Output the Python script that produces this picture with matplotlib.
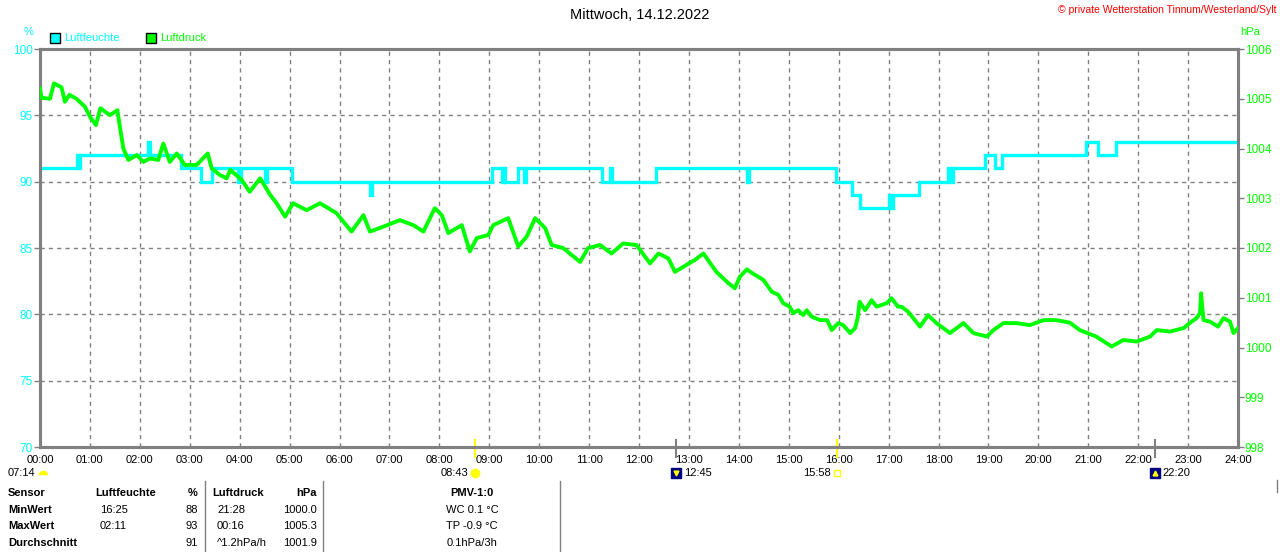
#weather station day chart: humidity + air pressure
import numpy as np
import matplotlib.pyplot as plt
from matplotlib.lines import Line2D

plt.rcParams['font.family'] = ['Liberation Sans', 'DejaVu Sans']

#data
title = "Mittwoch, 14.12.2022"
copyright_txt = "\u00a9 private Wetterstation Tinnum/Westerland/Sylt"

#humidity (%), step changes (hour, value)
hum_hours = [0.0, 0.74, 0.76, 0.80, 2.17, 2.21, 2.82, 3.22, 3.44, 3.97, 4.02, 4.50, 4.54,
             5.05, 6.62, 6.66, 9.05, 9.25, 9.29, 9.32, 9.58, 9.70, 9.74, 11.25, 11.42,
             11.46, 12.34, 14.17, 14.21, 15.95, 16.26, 16.42, 17.00, 17.05, 17.08, 17.60,
             18.20, 18.26, 18.30, 18.93, 19.13, 19.28, 20.95, 21.20, 21.55, 24.0]
hum_values = [91, 92, 91, 92, 93, 92, 91, 90, 91, 90, 91, 90, 91,
              90, 89, 90, 91, 90, 91, 90, 91, 90, 91, 90, 91,
              90, 91, 90, 91, 90, 89, 88, 89, 88, 89, 90,
              91, 90, 91, 92, 91, 92, 93, 92, 93, 93]

#air pressure (hPa)
p_hours = [0.0, 0.03, 0.20, 0.28, 0.43, 0.50, 0.59, 0.73, 0.90, 1.00, 1.12, 1.21, 1.40,
           1.55, 1.60, 1.67, 1.77, 1.94, 2.07, 2.20, 2.37, 2.47, 2.60, 2.74, 2.90, 3.14,
           3.36, 3.44, 3.60, 3.74, 3.81, 4.04, 4.20, 4.41, 4.61, 4.74, 4.91, 5.07, 5.34,
           5.61, 5.94, 6.24, 6.48, 6.61, 6.88, 7.21, 7.48, 7.68, 7.91, 8.05, 8.18, 8.28,
           8.45, 8.61, 8.75, 8.98, 9.08, 9.38, 9.58, 9.75, 9.92, 10.12, 10.25, 10.48,
           10.65, 10.82, 10.98, 11.22, 11.45, 11.68, 11.95, 12.22, 12.39, 12.59, 12.72,
           12.95, 13.12, 13.29, 13.55, 13.76, 13.92, 14.02, 14.16, 14.29, 14.49, 14.66,
           14.79, 14.89, 15.02, 15.09, 15.19, 15.29, 15.36, 15.46, 15.63, 15.77, 15.86,
           15.99, 16.09, 16.23, 16.33, 16.38, 16.42, 16.53, 16.66, 16.76, 16.96, 17.06,
           17.19, 17.26, 17.39, 17.63, 17.79, 17.96, 18.23, 18.50, 18.70, 18.97, 19.10,
           19.30, 19.56, 19.83, 20.10, 20.36, 20.63, 20.83, 21.16, 21.47, 21.70, 21.97,
           22.24, 22.37, 22.64, 22.91, 23.07, 23.17, 23.24, 23.26, 23.29, 23.31, 23.44,
           23.60, 23.71, 23.84, 23.91, 24.0]
p_values = [1005.21, 1005.02, 1005.00, 1005.31, 1005.23, 1004.94, 1005.08, 1005.00,
            1004.84, 1004.64, 1004.47, 1004.81, 1004.67, 1004.77, 1004.44, 1004.00,
            1003.77, 1003.87, 1003.73, 1003.80, 1003.77, 1004.10, 1003.73, 1003.90,
            1003.67, 1003.67, 1003.90, 1003.60, 1003.47, 1003.40, 1003.57, 1003.37,
            1003.13, 1003.40, 1003.07, 1002.90, 1002.63, 1002.90, 1002.76, 1002.90,
            1002.70, 1002.33, 1002.66, 1002.33, 1002.43, 1002.56, 1002.46, 1002.33,
            1002.80, 1002.66, 1002.30, 1002.36, 1002.46, 1001.93, 1002.20, 1002.26,
            1002.46, 1002.60, 1002.03, 1002.23, 1002.60, 1002.40, 1002.06, 1002.00,
            1001.86, 1001.72, 1002.00, 1002.06, 1001.89, 1002.09, 1002.06, 1001.69,
            1001.89, 1001.79, 1001.52, 1001.66, 1001.76, 1001.89, 1001.52, 1001.32,
            1001.19, 1001.42, 1001.57, 1001.48, 1001.36, 1001.12, 1001.06, 1000.89,
            1000.82, 1000.69, 1000.75, 1000.65, 1000.75, 1000.62, 1000.55, 1000.55,
            1000.35, 1000.49, 1000.45, 1000.29, 1000.39, 1000.59, 1000.92, 1000.75,
            1000.95, 1000.82, 1000.89, 1000.99, 1000.82, 1000.82, 1000.72, 1000.42,
            1000.65, 1000.49, 1000.29, 1000.49, 1000.29, 1000.22, 1000.35, 1000.49,
            1000.49, 1000.45, 1000.55, 1000.55, 1000.50, 1000.35, 1000.22, 1000.02,
            1000.15, 1000.12, 1000.22, 1000.35, 1000.32, 1000.39, 1000.52, 1000.59,
            1000.70, 1001.09, 1000.75, 1000.55, 1000.52, 1000.42, 1000.59, 1000.52,
            1000.29, 1000.39]

hour_labels = ["%02d:00" % h for h in range(25)]
hum_ticks = [70, 75, 80, 85, 90, 95, 100]
p_ticks = [998, 999, 1000, 1001, 1002, 1003, 1004, 1005, 1006]

#sun / moon events (hour, label)
sunrise = (8.72, "08:43")
sunset = (15.97, "15:58")
moonset = (12.75, "12:45")
moonrise = (22.33, "22:20")

#table
table_rows = [
    ["Sensor", "Luftfeuchte", "%", "Luftdruck", "hPa", "PMV-1:0"],
    ["MinWert", "16:25", "88", "21:28", "1000.0", "WC 0.1 \u00b0C"],
    ["MaxWert", "02:11", "93", "00:16", "1005.3", "TP -0.9 \u00b0C"],
    ["Durchschnitt", "", "91", "^1.2hPa/h", "1001.9", "0.1hPa/3h"],
]

CYAN = '#00FFFF'
GREEN = '#00FF00'
GRAY = '#808080'
W, H = 1280, 552

def fx(x):
    return x / W

def fy(y):
    return 1 - y / H

fig = plt.figure(figsize=(W / 100, H / 100), dpi=100)
ax = fig.add_axes([fx(40), fy(447), (1238 - 40) / W, (447 - 49) / H])
ax2 = ax.twinx()

#grid
ax.set_xlim(0, 24)
ax.set_ylim(70, 100)
ax2.set_ylim(998, 1006)
ax.set_xticks(range(25))
ax.set_xticklabels(hour_labels, fontsize=8)
ax.set_yticks(hum_ticks)
ax.set_yticklabels([str(v) for v in hum_ticks], fontsize=8.5)
ax2.set_yticks(p_ticks)
ax2.set_yticklabels([str(v) for v in p_ticks], fontsize=8.5)
ax.grid(True, color=GRAY, linestyle=(0, (3, 3)), linewidth=1)
ax.tick_params(axis='x', length=0, pad=6)
ax.tick_params(axis='y', length=4, width=1, color=GRAY, labelcolor=CYAN, pad=1)
ax2.tick_params(axis='y', length=4, width=1, color=GRAY, labelcolor=GREEN, pad=1)
for a in (ax, ax2):
    for s in a.spines.values():
        s.set_color(GRAY)
        s.set_linewidth(2.2)

#lines
ax.plot(hum_hours, hum_values, drawstyle='steps-post', color=CYAN, lw=2.4,
        solid_joinstyle='miter', zorder=3)
ax2.plot(p_hours, p_values, color=GREEN, lw=2.8, zorder=4)

#sun / moon ticks across the bottom axis
xt = ax.get_xaxis_transform()
for h, col in [(sunrise[0], 'yellow'), (sunset[0], 'yellow'),
               (moonset[0], GRAY), (moonrise[0], GRAY)]:
    ax.plot([h, h], [0.018, -0.025], color=col, lw=1.5, transform=xt, clip_on=False)

ylab = -0.066
ax.text(sunrise[0] - 0.13, ylab, sunrise[1], transform=xt, ha='right', va='center', fontsize=8)
ax.plot([sunrise[0]], [ylab], 'o', ms=6, color='yellow', transform=xt, clip_on=False)
ax.text(sunset[0] - 0.12, ylab, sunset[1], transform=xt, ha='right', va='center', fontsize=8)
ax.plot([sunset[0]], [ylab], 's', ms=4, mfc='none', mec='yellow', transform=xt, clip_on=False)
for h, lab, mk in [(moonset[0], moonset[1], 'v'), (moonrise[0], moonrise[1], '^')]:
    ax.plot([h], [ylab], 's', ms=7, color='#000080', transform=xt, clip_on=False)
    ax.plot([h], [ylab], mk, ms=3.5, color='yellow', transform=xt, clip_on=False)
    ax.text(h + 0.15, ylab, lab, transform=xt, ha='left', va='center', fontsize=8)

#dawn time at left
fig.text(fx(8), fy(473), "07:14", fontsize=8, va='center')
fig.add_artist(Line2D([fx(43)], [fy(475)], marker='o', ms=7, color='yellow',
                      fillstyle='top', markerfacecoloralt='white', mec='none'))

#titles / units / legend
fig.text(0.5, fy(15), title, ha='center', va='center', fontsize=10.5)
fig.text(fx(1276), fy(10), copyright_txt, ha='right', va='center', fontsize=7.5, color='red')
fig.text(fx(24), fy(32), "%", ha='left', va='center', fontsize=8, color=CYAN)
fig.text(fx(1240), fy(32), "hPa", ha='left', va='center', fontsize=8, color=GREEN)
fig.add_artist(Line2D([fx(55)], [fy(38)], marker='s', ms=7, mfc=CYAN, mec='black', mew=1))
fig.text(fx(64), fy(38), "Luftfeuchte", va='center', fontsize=8, color=CYAN)
fig.add_artist(Line2D([fx(151)], [fy(38)], marker='s', ms=7, mfc=GREEN, mec='black', mew=1))
fig.text(fx(160), fy(38), "Luftdruck", va='center', fontsize=8, color=GREEN)

#stats table
row_y = [493, 510, 526, 543]
for i, row in enumerate(table_rows):
    w = 'bold' if i == 0 else 'normal'
    y = fy(row_y[i])
    fig.text(fx(8), y, row[0], va='center', fontsize=8, weight='bold')
    fig.text(fx(95 if i == 0 else 100), y, row[1], va='center', fontsize=8, weight=w)
    fig.text(fx(198), y, row[2], ha='right', va='center', fontsize=8, weight=w)
    fig.text(fx(212 if i == 0 else 217), y, row[3], va='center', fontsize=8, weight=w)
    fig.text(fx(317), y, row[4], ha='right', va='center', fontsize=8, weight=w)
    fig.text(fx(472), y, row[5], ha='center', va='center', fontsize=8, weight=w)
for xs in [205, 323, 560]:
    fig.add_artist(Line2D([fx(xs), fx(xs)], [fy(481), fy(552)], color=GRAY, lw=1))
fig.add_artist(Line2D([fx(1277), fx(1277)], [fy(480), fy(492)], color=GRAY, lw=1))

fig.savefig("out.png", dpi=100)
